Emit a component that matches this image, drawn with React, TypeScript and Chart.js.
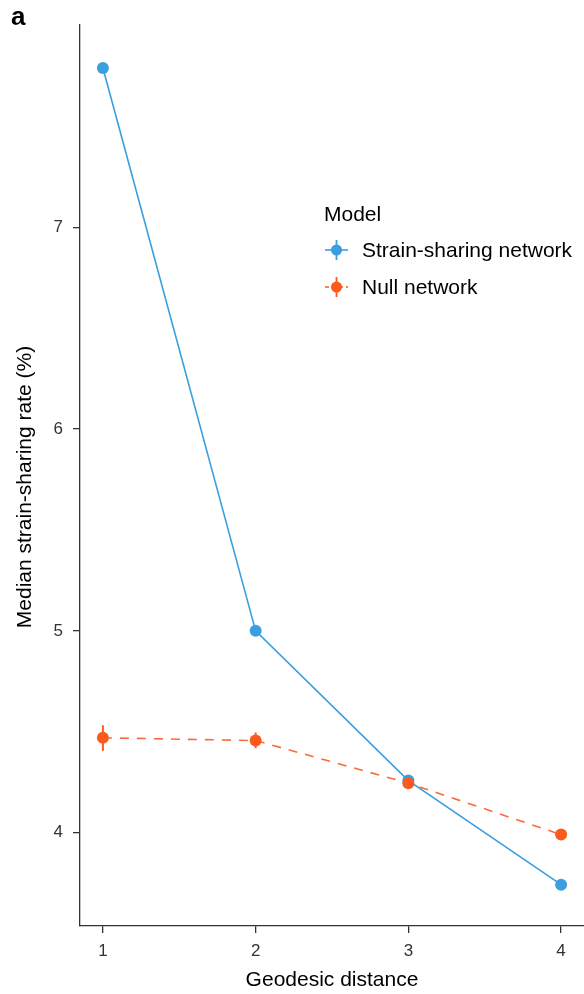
import React, { useEffect, useRef } from "react";
import { Chart, registerables } from "chart.js";

Chart.register(...registerables);

// Geodesic distance categories on the x axis
const distances = [1, 2, 3, 4];

// Median strain-sharing rate (%) per model
const strainSharing = [7.79, 5.0, 4.258, 3.742];
const nullNetwork = [4.47, 4.456, 4.245, 3.99];

// Error-bar bounds for the null network
const nullLow = [4.405, 4.418, 4.225, 3.975];
const nullHigh = [4.532, 4.496, 4.265, 4.005];

const yTicks = [4, 5, 6, 7];
const xTicks = [1, 2, 3, 4];

const BLUE = "#3B9EDF";
const ORANGE = "#FC5A1C";
const ORANGE_LINE = "#F96A3E";
const AXIS = "#333333";
const FONT = "'Liberation Sans', Arial, Helvetica, sans-serif";
const Y_TITLE = "Median strain-sharing rate (%)";

const errorBars = {
  id: "errorBars",
  beforeDatasetsDraw(chart: any) {
    const { ctx, scales } = chart;
    const xs = scales.x;
    const ys = scales.y;
    ctx.save();
    ctx.strokeStyle = ORANGE;
    ctx.lineWidth = 2;
    distances.forEach((d, i) => {
      const px = xs.getPixelForValue(d);
      ctx.beginPath();
      ctx.moveTo(px, ys.getPixelForValue(nullLow[i]));
      ctx.lineTo(px, ys.getPixelForValue(nullHigh[i]));
      ctx.stroke();
    });
    ctx.restore();
  },
};

const legendAndTag = {
  id: "legendAndTag",
  afterDraw(chart: any) {
    const { ctx } = chart;
    ctx.save();
    // panel tag
    ctx.fillStyle = "#000";
    ctx.font = `bold 26px ${FONT}`;
    ctx.textBaseline = "alphabetic";
    ctx.textAlign = "left";
    ctx.fillText("a", 11, 25);

    // y-axis title
    ctx.save();
    ctx.translate(31, 487);
    ctx.rotate(-Math.PI / 2);
    ctx.font = `21px ${FONT}`;
    ctx.textAlign = "center";
    ctx.textBaseline = "alphabetic";
    ctx.fillText(Y_TITLE, 0, 0);
    ctx.restore();

    // legend title
    ctx.font = `21px ${FONT}`;
    ctx.fillText("Model", 324, 221);

    const entries = [
      { label: "Strain-sharing network", color: BLUE, dashed: false, y: 250 },
      { label: "Null network", color: ORANGE, dashed: true, y: 287 },
    ];
    entries.forEach((e) => {
      const cx = 336.5;
      ctx.strokeStyle = e.color;
      ctx.lineWidth = 1.6;
      if (e.dashed) ctx.setLineDash([4, 3]);
      ctx.beginPath();
      ctx.moveTo(325, e.y);
      ctx.lineTo(348, e.y);
      ctx.stroke();
      ctx.setLineDash([]);
      ctx.lineWidth = 1.8;
      ctx.beginPath();
      ctx.moveTo(cx, e.y - 10);
      ctx.lineTo(cx, e.y + 10);
      ctx.stroke();
      ctx.fillStyle = e.color;
      ctx.beginPath();
      ctx.arc(cx, e.y, 5.5, 0, Math.PI * 2);
      ctx.fill();
      ctx.fillStyle = "#000";
      ctx.textBaseline = "middle";
      ctx.fillText(e.label, 362, e.y + 1);
    });
    ctx.restore();
  },
};

export default function App() {
  const canvasRef = useRef<HTMLCanvasElement | null>(null);

  useEffect(() => {
    document.body.style.margin = "0";
    const canvas = canvasRef.current;
    if (!canvas) return;

    const chart = new Chart(canvas, {
      type: "line",
      data: {
        datasets: [
          {
            label: "Null network",
            data: distances.map((d, i) => ({ x: d, y: nullNetwork[i] })),
            borderColor: ORANGE_LINE,
            backgroundColor: ORANGE,
            pointBackgroundColor: ORANGE,
            pointBorderWidth: 0,
            pointRadius: 6,
            borderWidth: 1.6,
            borderDash: [9, 8],
            order: 0,
          },
          {
            label: "Strain-sharing network",
            data: distances.map((d, i) => ({ x: d, y: strainSharing[i] })),
            borderColor: BLUE,
            backgroundColor: BLUE,
            pointBackgroundColor: BLUE,
            pointBorderWidth: 0,
            pointRadius: 6,
            borderWidth: 1.6,
            order: 1,
          },
        ],
      },
      options: {
        animation: false,
        responsive: false,
        devicePixelRatio: 1,
        layout: { autoPadding: false, padding: { top: 25, right: 0, left: 0, bottom: 0 } },
        plugins: {
          legend: { display: false },
          tooltip: { enabled: false },
        },
        scales: {
          x: {
            type: "linear",
            min: 0.85,
            max: 4.15,
            afterBuildTicks: (scale: any) => {
              scale.ticks = xTicks.map((v) => ({ value: v }));
            },
            afterFit: (scale: any) => {
              scale.height = 68;
              scale.paddingLeft = 0;
              scale.paddingRight = 0;
            },
            border: { display: true, color: AXIS, width: 1.3 },
            grid: {
              drawOnChartArea: false,
              drawTicks: true,
              tickLength: 7,
              color: AXIS,
              lineWidth: 1.3,
            },
            ticks: {
              color: "#333",
              font: { family: FONT, size: 17 },
              padding: 8,
              maxRotation: 0,
              callback: (v: any) => String(v),
            },
            title: {
              display: true,
              text: "Geodesic distance",
              color: "#000",
              font: { family: FONT, size: 21 },
              padding: { top: 0, bottom: 1 },
            },
          },
          y: {
            type: "linear",
            min: 3.537,
            max: 8.003,
            afterBuildTicks: (scale: any) => {
              scale.ticks = yTicks.map((v) => ({ value: v }));
            },
            afterFit: (scale: any) => {
              scale.width = 80;
              scale.paddingTop = 0;
              scale.paddingBottom = 0;
            },
            border: { display: true, color: AXIS, width: 1.3 },
            grid: {
              drawOnChartArea: false,
              drawTicks: true,
              tickLength: 7,
              color: AXIS,
              lineWidth: 1.3,
            },
            ticks: {
              color: "#333",
              font: { family: FONT, size: 17 },
              padding: 10,
              callback: (v: any) => String(v),
            },
          },
        },
      },
      plugins: [errorBars, legendAndTag],
    });

    return () => chart.destroy();
  }, []);

  return (
    <div style={{ position: "relative", width: 584, height: 994 }}>
      <canvas ref={canvasRef} width={584} height={994} style={{ display: "block" }} />
    </div>
  );
}
